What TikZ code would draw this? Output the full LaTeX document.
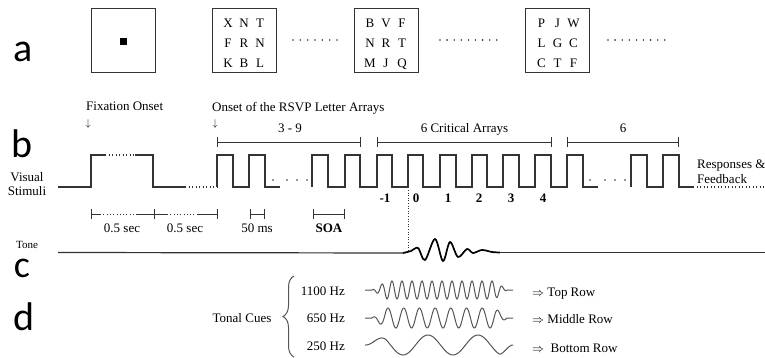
\documentclass[tikz,border=0pt]{standalone}
\usepackage{fontspec}
\setmainfont{Liberation Serif}
\newfontfamily\panelfont{Carlito}
\usetikzlibrary{arrows.meta,decorations.pathreplacing}
\definecolor{ink}{HTML}{333333}
\definecolor{wavecol}{HTML}{555555}
\newcommand{\trio}[3]{\makebox[16pt]{#1}\makebox[16pt]{#2}\makebox[16pt]{#3}}
\newcommand{\fsz}{\fontsize{13}{14}\selectfont}
\begin{document}
\begin{tikzpicture}[x=1pt, y=-1pt,
  every node/.style={font=\fsz, inner sep=0pt, text=black},
  sig/.style={draw=ink, line width=1.1pt, line join=miter},
  dotseg/.style={draw=ink, line width=1.1pt, dash pattern=on 0.9pt off 2.6pt},
  brk/.style={draw=ink, line width=0.9pt, {Bar[width=10pt]}-{Bar[width=10pt]}},
  lbox/.style={draw=ink, line width=1pt, minimum width=64pt, minimum height=64pt, inner sep=0pt},
  panel/.style={font=\panelfont\fontsize{40}{40}\selectfont, anchor=base},
  lbl/.style={anchor=base},
  darr/.style={font=\fontsize{10}{10}\selectfont},
  wavestyle/.style={draw=wavecol, line width=1pt},
  tick/.style={draw=ink, line width=0.9pt}]
\useasboundingbox (0,0) rectangle (765,358);

% panel letters
\node[panel] (pa) at (23,62) {a};
\node[panel] (pb) at (22,158) {b};
\node[panel, font=\panelfont\fontsize{38}{38}\selectfont] (pc) at (22,277) {c};
\node[panel] (pd) at (24,330) {d};

% ---- a: letter arrays
\node[lbox] (box1) at (123,41) {};
\fill[black] (119.5,38.5) rectangle (126.5,45.5);
\node[lbox] (box2) at (244,41) {};
\node[lbl] (b2r1) at (244,28) {\trio XNT};
\node[lbl] (b2r2) at (244,48) {\trio FRN};
\node[lbl] (b2r3) at (244,68) {\trio KBL};
\node[lbox] (box3) at (386,41) {};
\node[lbl] (b3r1) at (386,28) {\trio BVF};
\node[lbl] (b3r2) at (386,48) {\trio NRT};
\node[lbl] (b3r3) at (386,68) {\trio MJQ};
\node[lbox] (box4) at (557.5,41) {};
\node[lbl] (b4r1) at (557.5,28) {\trio PJW};
\node[lbl] (b4r2) at (557.5,48) {\trio LGC};
\node[lbl] (b4r3) at (557.5,68) {\trio CTF};
\foreach \i in {0,...,6} \fill[ink] (293+\i*7.33,40) circle (0.9pt);
\foreach \i in {0,...,8} \fill[ink] (440+\i*7.1,40) circle (0.9pt);
\foreach \i in {0,...,8} \fill[ink] (608+\i*7.1,40) circle (0.9pt);

% ---- b: visual stimuli
\node[anchor=base west] (fixon) at (86,111) {Fixation Onset};
\node[darr] (fixarr) at (88,124) {$\downarrow$};
\node[anchor=base west] (rsvpon) at (212,112) {Onset of the RSVP Letter Arrays};
\node[darr] (rsvparr) at (215,124) {$\downarrow$};

\node[lbl] (vis1) at (27,182) {Visual};
\node[lbl] (vis2) at (27,196) {Stimuli};

\draw[brk] (217,142) -- (361,142);
\draw[brk] (377,142) -- (552,142);
\draw[brk] (567,142) -- (679,142);
\node[lbl] (n39) at (290,133) {3 - 9};
\node[lbl] (ncrit) at (464.5,133) {6 Critical Arrays};
\node[lbl] (n6) at (623,133) {6};

\draw[sig] (58,187) -- (91,187) -- (91,155) -- (105,155);
\draw[dotseg] (105,155) -- (135,155);
\draw[sig] (135,155) -- (153,155) -- (153,187) -- (185,187);
\draw[dotseg] (185,187) -- (217,187);
\draw[sig] (217,187) -- (217,155) -- (233,155) -- (233,187) -- (249,187) -- (249,155) -- (265,155) -- (265,187) -- (280,187);
\foreach \x in {273,287,297,307} \fill[ink] (\x,180) circle (0.9pt);
\draw[sig] (312,187) -- (312,155) -- (328,155) -- (328,187) -- (345,187) -- (345,155) -- (360,155) -- (360,187)
  -- (377,187) -- (377,155) -- (392,155) -- (392,187) -- (408,187) -- (408,155) -- (423,155) -- (423,187)
  -- (440,187) -- (440,155) -- (456,155) -- (456,187) -- (472,187) -- (472,155) -- (487,155) -- (487,187)
  -- (503,187) -- (503,155) -- (519,155) -- (519,187) -- (535,187) -- (535,155) -- (551,155) -- (551,187)
  -- (567,187) -- (567,155) -- (583,155) -- (583,187) -- (598,187);
\foreach \x in {590,605,615,625} \fill[ink] (\x,180) circle (0.9pt);
\draw[sig] (631,187) -- (631,155) -- (647,155) -- (647,187) -- (663,187) -- (663,155) -- (679,155) -- (679,187) -- (693,187);
\draw[dotseg] (693,187) -- (765,187);
\node[anchor=base west] (resp1) at (697,168) {Responses \&};
\node[anchor=base west] (resp2) at (697,183) {Feedback};

\foreach \x/\t in {385/-1,416/0,448/1,479/2,511/3,543/4}
  \node[lbl, font=\fsz\bfseries] at (\x,203) {\t};

% timing measures
\draw[tick] (91,209) -- (91,219) (154,209) -- (154,219) (217,209) -- (217,219);
\draw[tick] (91,214) -- (100,214) (137,214) -- (167,214) (197,214) -- (217,214);
\draw[draw=ink, line width=0.9pt, dash pattern=on 0.9pt off 2.4pt] (100,214) -- (137,214) (167,214) -- (197,214);
\draw[brk] (250,214) -- (265,214);
\draw[brk] (313,214) -- (345,214);
\node[lbl] (half1) at (122,232) {0.5 sec};
\node[lbl] (half2) at (185,232) {0.5 sec};
\node[lbl] (ms50) at (257,232) {50 ms};
\node[lbl, font=\fsz\bfseries] (soa) at (329,232) {SOA};

% ---- c: tone
\node[lbl, font=\fontsize{11}{12}\selectfont] (tone) at (27,248) {Tone};
\draw[draw=ink, line width=0.7pt, dash pattern=on 1pt off 1.6pt] (408,190) -- (408,251);
\draw[draw=ink, line width=1.2pt] (58,252.5) -- (403,253);
\draw[draw=black, line width=1.7pt] plot[smooth, tension=0.55] coordinates {
  (403,253) (411,251) (418,248) (425,260) (435,239) (443,261) (450,242) (458,257)
  (467,249) (473,253) (482,250) (492,252) (500,252.5)};
\draw[draw=ink, line width=1.2pt] (500,252.5) -- (765,252.5);

% ---- d: tonal cues
\node[lbl] (cues) at (242,322) {Tonal Cues};
\draw[wavestyle, decorate, decoration={brace, amplitude=11pt}] (294,357) -- (294,276);
\node[anchor=base east] (f1) at (345,295) {1100 Hz};
\node[anchor=base east] (f2) at (345,322) {650 Hz};
\node[anchor=base east] (f3) at (345,350) {250 Hz};
\draw[wavestyle] plot[domain=365:513, samples=320]
  (\x,{290-9*min(1,max(0,(\x-372)/15),max(0,(507-\x)/12))*sin(36*(\x-389.5))});
\draw[wavestyle] plot[domain=365:513, samples=240]
  (\x,{318-10*min(1,max(0,(\x-372)/14),max(0,(507-\x)/12))*sin(22.93*(\x-384.1))});
\draw[wavestyle] plot[domain=365:513, samples=200]
  (\x,{345+10*min(1,max(0,(\x-366)/20),max(0,(512-\x)/12))*cos(7.2*(\x-403))});
\node[anchor=base west] (r1) at (532,296) {$\Rightarrow$ Top Row};
\node[anchor=base west] (r2) at (532,323) {$\Rightarrow$ Middle Row};
\node[anchor=base west] (r3) at (532,352) {$\Rightarrow$\ \ Bottom Row};
\end{tikzpicture}
\end{document}
